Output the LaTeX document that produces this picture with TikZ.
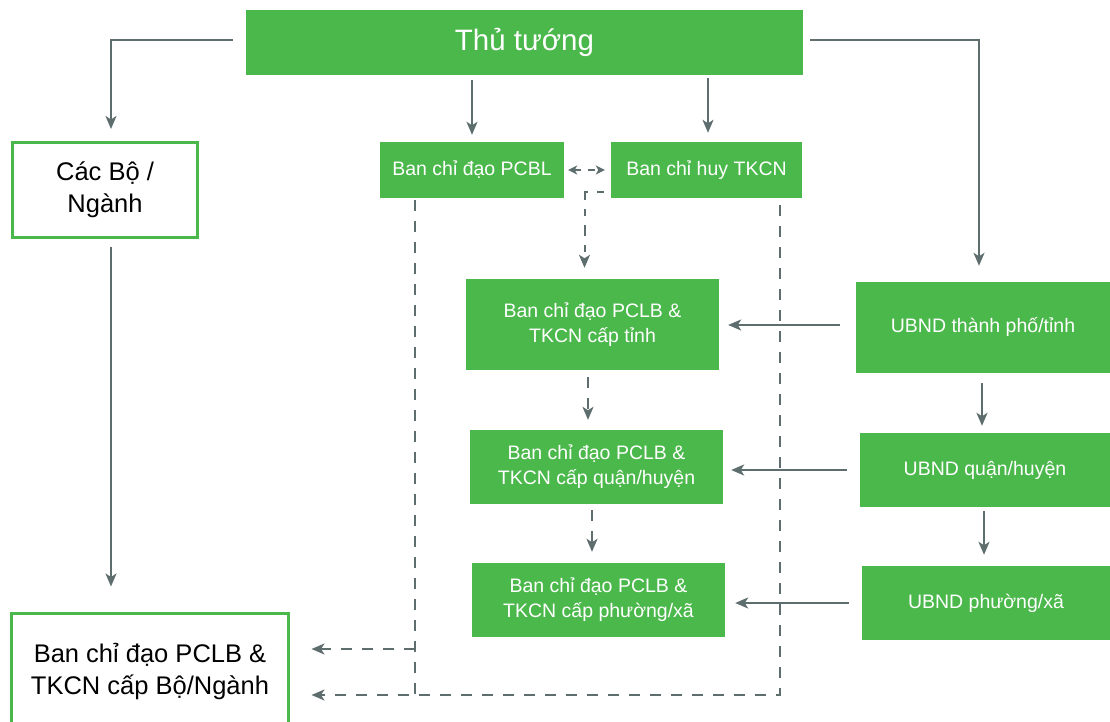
\documentclass[tikz,border=0pt]{standalone}
\usepackage{fontspec}
\setmainfont{Liberation Sans}
\usetikzlibrary{arrows.meta,calc}
\definecolor{gr}{HTML}{4BB84B}
\definecolor{ln}{HTML}{5E6D6D}
\begin{document}
\begin{tikzpicture}[x=1pt,y=-1pt,
 gbox/.style={rectangle, fill=gr, text=white, inner sep=0pt, align=center},
 wbox/.style={rectangle, draw=gr, line width=3pt, fill=white, text=black, inner sep=0pt, align=center},
 tip/.tip={Stealth[length=13pt,width=11pt,inset=3.5pt]},
 smalltip/.tip={Stealth[length=9pt,width=9pt,inset=2.5pt]},
 arr/.style={draw=ln, line width=2pt, -tip},
 darr/.style={arr, dash pattern=on 11pt off 10pt},
 dline/.style={draw=ln, line width=2pt, dash pattern=on 11pt off 10pt},
 fbig/.style={font=\fontsize{25.5}{32}\selectfont},
 fsm/.style={font=\fontsize{19.5}{25}\selectfont}]
\useasboundingbox (0,0) rectangle (1110,722);
\clip (0,0) rectangle (1110,722);
\fill[white] (0,0) rectangle (1110,722);

\node[gbox, minimum width=557pt, minimum height=65pt, font=\fontsize{29.5}{34}\selectfont] (tt) at (524.5,42.5) {Thủ tướng};
\node[wbox, minimum width=185pt, minimum height=95pt, fbig] (bo) at (105,190) {Các Bộ /\\Ngành};
\node[gbox, minimum width=184pt, minimum height=56pt, fsm] (pcbl) at (472,170) {Ban chỉ đạo PCBL};
\node[gbox, minimum width=191pt, minimum height=56pt, fsm] (tkcn) at (706.5,170) {Ban chỉ huy TKCN};
\node[gbox, minimum width=253pt, minimum height=91pt, fsm] (ct) at (592.5,324.5) {Ban chỉ đạo PCLB \&\\TKCN cấp tỉnh};
\node[gbox, minimum width=253pt, minimum height=74pt, fsm] (cq) at (596.5,467) {Ban chỉ đạo PCLB \&\\TKCN cấp quận/huyện};
\node[gbox, minimum width=253pt, minimum height=74pt, fsm] (cp) at (598.5,600) {Ban chỉ đạo PCLB \&\\TKCN cấp phường/xã};
\node[gbox, minimum width=254pt, minimum height=91pt, fsm] (ut) at (983,327.5) {UBND thành phố/tỉnh};
\node[gbox, minimum width=250pt, minimum height=74pt, fsm] (uq) at (985,470) {UBND quận/huyện};
\node[gbox, minimum width=248pt, minimum height=74pt, fsm] (up) at (986,603) {UBND phường/xã};
\node[wbox, minimum width=277pt, minimum height=117pt, fbig] (bn) at (150,672) {Ban chỉ đạo PCLB \&\\TKCN cấp Bộ/Ngành};

% solid connectors
\draw[arr] ($(tt.west)+(-13,-2.5)$) -| ($(bo.north)+(6,-12)$);
\draw[arr] ($(tt.east)+(7,-2.5)$) -| ($(ut.north)+(-4,-16)$);
\draw[arr] ($(tt.south -| pcbl.north)+(0,5)$) -- ($(pcbl.north)+(0,-7)$);
\draw[arr] ($(tt.south -| tkcn.north)+(1.5,3)$) -- ($(tkcn.north)+(1.5,-9)$);
\draw[arr] ($(ut.west)+(-16,-2.5)$) -- ($(ct.east)+(9,0.5)$);
\draw[arr] ($(uq.west)+(-13,0)$) -- ($(cq.east)+(8,3)$);
\draw[arr] ($(up.west)+(-13,0)$) -- ($(cp.east)+(10,3)$);
\draw[arr] ($(ut.south)+(-1,10)$) -- ($(uq.north)+(-3,-7)$);
\draw[arr] ($(uq.south)+(-1,4)$) -- ($(up.north)+(-2,-11)$);
\draw[arr] ($(bo.south)+(6,7.5)$) -- ($(bn.north -| bo.south)+(6,-25.5)$);

% dashed connectors
\draw[draw=ln, line width=2pt, dash pattern=on 7pt off 7pt, smalltip-smalltip] ($(pcbl.east)+(4,0)$) -- ($(tkcn.west)+(-6,0)$);
\draw[darr, dash pattern=on 7pt off 9pt on 11pt off 9pt] ($(tkcn.south west)+(-7,-6)$) -| ($(ct.north)+(-8,-11)$);
\draw[darr] ($(ct.south)+(-4.5,7)$) -- ($(cq.north)+(-8.5,-10)$);
\draw[darr] ($(cq.south)+(-4.5,6)$) -- ($(cp.north)+(-6.5,-11)$);

\coordinate (pa) at ($(pcbl.south west)+(35,2)$);
\coordinate (ta) at ($(tkcn.south east)+(-22,7)$);
\coordinate (bb) at ($(bn.east)+(21.5,23)$);
\coordinate (bu) at ($(bn.east)+(21.5,-23)$);
\draw[darr] (ta) -- (ta |- bb) -- (bb);
\draw[dline] (pa) -- (pa |- bb);
\draw[darr] (pa |- bu) -- (bu);
\end{tikzpicture}
\end{document}
